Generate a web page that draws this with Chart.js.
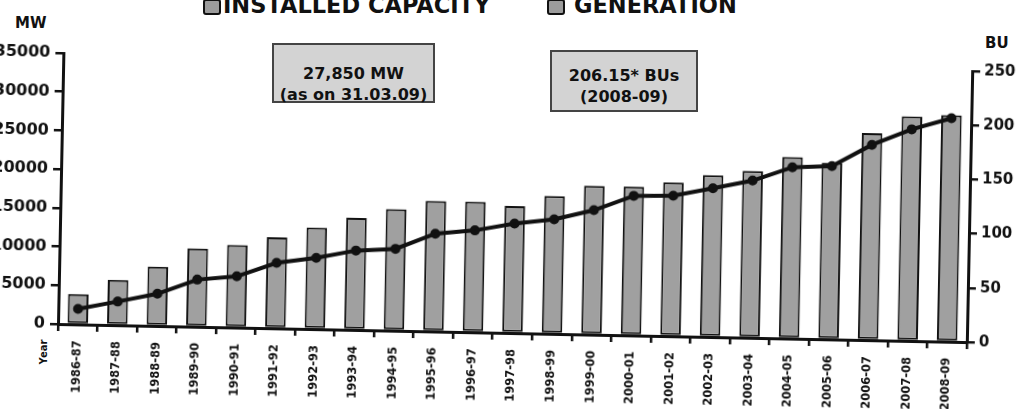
<!DOCTYPE html>
<html lang="en">
<head>
<meta charset="UTF-8">
<title>Installed Capacity and Generation</title>
<script src="https://cdn.jsdelivr.net/npm/chart.js"></script>
<style>
  html, body { margin: 0; padding: 0; background: #fff; overflow: hidden; }
  body { width: 1016px; height: 409px; position: relative; font-family: "DejaVu Sans", Verdana, sans-serif; font-weight: bold; color: #111; }
  /* the scan is turned a little clockwise, so the chart is too */
  #tilt { position: absolute; left: -20px; top: 0; width: 1060px; height: 409px; transform-origin: 78px 324px; transform: rotate(1.14deg); }
  .lbl { position: absolute; white-space: nowrap; line-height: 1; }
  .key { position: absolute; top: -1px; width: 14px; height: 12px; background: #9c9c9c; border: 2px solid #111; border-radius: 3px; }
  .note { position: absolute; box-sizing: border-box; background: #d3d3d3; border: 2px solid #444; text-align: center; font-size: 16px; line-height: 21px; }
</style>
</head>
<body>
  <!-- legend, cut off by the top edge like in the scan -->
  <div class="key" style="left:203px"></div>
  <div class="lbl" style="left:223px; top:-6px; font-size:22.5px">INSTALLED CAPACITY</div>
  <div class="key" style="left:547px"></div>
  <div class="lbl" style="left:574px; top:-6px; font-size:22.5px">GENERATION</div>

  <div class="lbl" style="left:15px; top:16px; font-size:15px">MW</div>
  <div class="lbl" style="left:985px; top:36px; font-size:15px">BU</div>

  <div class="note" style="left:272px; top:43px; width:163px; height:60px; padding-top:18px">27,850 MW<br>(as on 31.03.09)</div>
  <div class="note" style="left:550px; top:50px; width:148px; height:62px; padding-top:13px">206.15* BUs<br>(2008-09)</div>

  <div class="lbl" style="left:32px; top:347px; font-size:10px; transform:rotate(-90deg)">Year</div>

  <div id="tilt"><canvas id="chart" width="1060" height="409"></canvas></div>

<script>
const years = ['1986-87', '1987-88', '1988-89', '1989-90', '1990-91', '1991-92', '1992-93', '1993-94',
               '1994-95', '1995-96', '1996-97', '1997-98', '1998-99', '1999-00', '2000-01', '2001-02',
               '2002-03', '2003-04', '2004-05', '2005-06', '2006-07', '2007-08', '2008-09'];

// installed capacity, MW (bars, left axis)
const capacityMW = [3900, 5850, 7650, 10100, 10650, 11750, 13100, 14450, 15700, 16850, 16850, 16400,
                    17800, 19200, 19200, 19850, 20900, 21550, 23450, 22800, 26750, 29000, 29250];

// generation, BU (line, right axis)
const generationBU = [14.3, 21.8, 29.7, 43.5, 47.2, 60.4, 65.8, 73.2, 75.5, 90.2, 94, 101,
                      105.7, 114.8, 128.8, 129.6, 137.2, 145, 158, 159.8, 180.2, 195.2, 206.15];

const mwTicks = [0, 5000, 10000, 15000, 20000, 25000, 30000, 35000];
const buTicks = [0, 50, 100, 150, 200, 250];

const ink = '#111';

new Chart(document.getElementById('chart'), {
    data: {
        labels: years,
        datasets: [
            {
                type: 'line',
                label: 'GENERATION',
                data: generationBU,
                yAxisID: 'y1',
                order: 0,
                borderColor: ink,
                borderWidth: 4,
                tension: 0,
                pointRadius: 3,
                pointBackgroundColor: ink,
                pointBorderColor: ink
            },
            {
                type: 'bar',
                label: 'INSTALLED CAPACITY',
                data: capacityMW,
                yAxisID: 'y',
                order: 1,
                backgroundColor: '#a0a0a0',
                borderColor: ink,
                borderWidth: 2,
                borderSkipped: false,
                categoryPercentage: 1,
                barPercentage: 0.52
            }
        ]
    },
    options: {
        responsive: false,
        devicePixelRatio: 1,
        animation: false,
        layout: { padding: { top: 53, left: 0, right: 0, bottom: 0 } },
        plugins: {
            legend: { display: false },
            tooltip: { enabled: false }
        },
        scales: {
            x: {
                grid: { offset: true, drawOnChartArea: false, tickLength: 7, color: ink, lineWidth: 2.5 },
                border: { color: ink, width: 3 },
                ticks: {
                    autoSkip: false, minRotation: 90, maxRotation: 90, padding: 9, color: ink,
                    font: { family: 'DejaVu Sans', size: 11.5, weight: 'bold' }
                },
                afterFit: s => { s.height = 85; }
            },
            y: {
                position: 'left',
                min: 0, max: 35000,
                grid: { drawOnChartArea: false, tickLength: 8, color: ink, lineWidth: 2.5 },
                border: { color: ink, width: 3 },
                ticks: { padding: 5, color: ink, font: { family: 'DejaVu Sans', size: 16, weight: 'bold' }, callback: v => String(v) },
                afterBuildTicks: s => { s.ticks = mwTicks.map(v => ({ value: v })); },
                afterFit: s => { s.width = 78; }
            },
            y1: {
                position: 'right',
                min: 0, max: 250,
                grid: { drawOnChartArea: false, tickLength: 8, color: ink, lineWidth: 2.5 },
                border: { color: ink, width: 3 },
                ticks: { padding: 4, color: ink, font: { family: 'DejaVu Sans', size: 15, weight: 'bold' }, callback: v => String(v) },
                afterBuildTicks: s => { s.ticks = buTicks.map(v => ({ value: v })); },
                afterFit: s => { s.width = 73; }
            }
        }
    }
});
</script>
</body>
</html>
